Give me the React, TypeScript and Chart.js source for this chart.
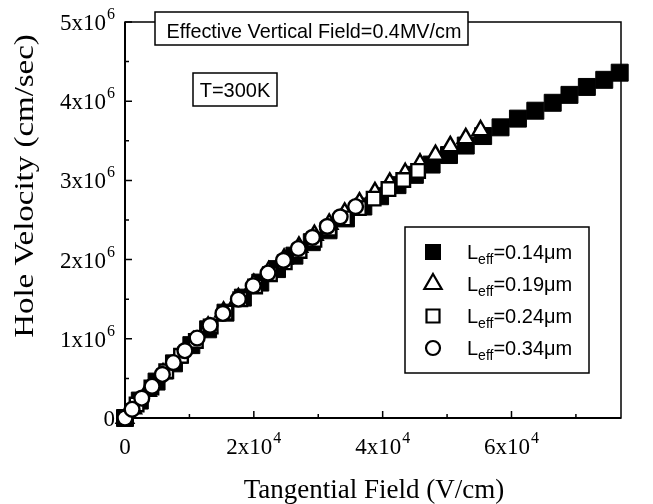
import { useEffect, useRef } from "react";
import { Chart, registerables } from "chart.js";

Chart.register(...registerables);

// Tangential field in kV/cm, hole velocity in 10^6 cm/sec, one pair per gate length
const field014 = [0, 2.3, 4.9, 7.6, 10.3, 12.9, 15.6, 18.3, 21.0, 23.6, 26.3, 29.0, 31.6, 34.3, 37.0, 39.6, 42.3, 45.0, 47.6, 50.3, 52.9, 55.6, 58.3, 61.0, 63.7, 66.4, 69.0, 71.7, 74.4, 76.8];
const vel014 = [0, 0.22, 0.46, 0.69, 0.92, 1.12, 1.33, 1.52, 1.71, 1.88, 2.05, 2.22, 2.37, 2.52, 2.67, 2.8, 2.94, 3.07, 3.2, 3.32, 3.44, 3.56, 3.67, 3.78, 3.88, 3.98, 4.08, 4.18, 4.27, 4.36];

const field019 = [0, 1.2, 3.5, 5.9, 8.2, 10.6, 12.9, 15.3, 17.6, 20.0, 22.3, 24.7, 27.0, 29.4, 31.7, 34.1, 36.4, 38.8, 41.1, 43.5, 45.8, 48.2, 50.5, 52.9, 55.2];
const vel019 = [0, 0.12, 0.34, 0.56, 0.76, 0.965, 1.15, 1.34, 1.51, 1.69, 1.85, 2.01, 2.16, 2.31, 2.45, 2.59, 2.72, 2.85, 2.97, 3.09, 3.21, 3.32, 3.43, 3.53, 3.63];

const field024 = [0, 1.8, 4.1, 6.4, 8.7, 11.0, 13.3, 15.6, 17.9, 20.2, 22.5, 24.8, 27.1, 29.4, 31.7, 34.0, 36.3, 38.6, 40.9, 43.2, 45.5];
const vel024 = [0, 0.17, 0.385, 0.59, 0.785, 0.973, 1.155, 1.33, 1.5, 1.66, 1.815, 1.965, 2.11, 2.25, 2.39, 2.52, 2.65, 2.77, 2.89, 3.005, 3.12];

const field034 = [0, 1.1, 2.6, 4.2, 5.8, 7.5, 9.3, 11.2, 13.2, 15.2, 17.6, 19.9, 22.2, 24.6, 26.9, 29.1, 31.4, 33.4, 35.8];
const vel034 = [0, 0.11, 0.25, 0.4, 0.55, 0.7, 0.85, 1.01, 1.17, 1.32, 1.5, 1.67, 1.83, 1.99, 2.14, 2.28, 2.42, 2.54, 2.67];

const legendLengths = ["0.14", "0.19", "0.24", "0.34"];

// Axis ticks
const xMajor = [0, 20000, 40000, 60000];
const xMinor = [10000, 30000, 50000, 70000];
const xTickBase = ["0", "2x10", "4x10", "6x10"];
const xTickExp = ["", "4", "4", "4"];
const yMajor = [0, 1e6, 2e6, 3e6, 4e6, 5e6];
const yMinor = [5e5, 1.5e6, 2.5e6, 3.5e6, 4.5e6];
const yTickBase = ["0", "1x10", "2x10", "3x10", "4x10", "5x10"];
const yTickExp = ["", "6", "6", "6", "6", "6"];

const SERIF = '"Liberation Serif", "Times New Roman", serif';
const SANS = '"Liberation Sans", Arial, sans-serif';

const toPoints = (f: number[], v: number[]) =>
  f.map((e, i) => ({ x: e * 1e3, y: v[i] * 1e6 }));

type MarkerKind = "filledSquare" | "triangle" | "openSquare" | "circle";

function drawMarker(ctx: CanvasRenderingContext2D, kind: MarkerKind, x: number, y: number) {
  ctx.save();
  ctx.lineWidth = 2.2;
  ctx.strokeStyle = "#000";
  ctx.fillStyle = "#fff";
  ctx.beginPath();
  if (kind === "filledSquare") {
    ctx.fillStyle = "#000";
    ctx.rect(x - 8, y - 8, 16, 16);
    ctx.fill();
  } else if (kind === "openSquare") {
    ctx.rect(x - 6.5, y - 6.5, 13, 13);
    ctx.fill();
    ctx.stroke();
  } else if (kind === "triangle") {
    const r = 10;
    ctx.moveTo(x, y - r);
    ctx.lineTo(x + r * 0.866, y + r / 2);
    ctx.lineTo(x - r * 0.866, y + r / 2);
    ctx.closePath();
    ctx.fill();
    ctx.stroke();
  } else {
    ctx.arc(x, y, 7, 0, Math.PI * 2);
    ctx.fill();
    ctx.stroke();
  }
  ctx.restore();
}

function drawSci(
  ctx: CanvasRenderingContext2D,
  base: string,
  exp: string,
  x: number,
  y: number,
  align: "center" | "right"
) {
  ctx.font = `23px ${SERIF}`;
  const wb = ctx.measureText(base).width;
  ctx.font = `16px ${SERIF}`;
  const we = exp ? ctx.measureText(exp).width + 1 : 0;
  const total = wb + we;
  const left = align === "center" ? x - total / 2 : x - total;
  ctx.textAlign = "left";
  ctx.textBaseline = "alphabetic";
  ctx.font = `23px ${SERIF}`;
  ctx.fillText(base, left, y);
  if (exp) {
    ctx.font = `16px ${SERIF}`;
    ctx.fillText(exp, left + wb + 1, y - 11);
  }
}

const framePlugin = {
  id: "frameAndTicks",
  beforeDatasetsDraw(chart: any) {
    const { ctx, chartArea: a, scales } = chart;
    const xs = scales.x;
    const ys = scales.y;
    ctx.save();
    ctx.strokeStyle = "#000";
    ctx.lineWidth = 1.5;
    ctx.strokeRect(a.left, a.top, a.right - a.left, a.bottom - a.top);
    ctx.lineWidth = 2;
    ctx.beginPath();
    ctx.moveTo(a.left, a.top);
    ctx.lineTo(a.left, a.bottom);
    ctx.lineTo(a.right, a.bottom);
    ctx.stroke();
    ctx.lineWidth = 1.5;
    ctx.beginPath();
    xMajor.forEach((v) => {
      const px = xs.getPixelForValue(v);
      ctx.moveTo(px, a.bottom);
      ctx.lineTo(px, a.bottom - 7);
    });
    xMinor.forEach((v) => {
      const px = xs.getPixelForValue(v);
      ctx.moveTo(px, a.bottom);
      ctx.lineTo(px, a.bottom - 4);
    });
    yMajor.forEach((v) => {
      const py = ys.getPixelForValue(v);
      ctx.moveTo(a.left, py);
      ctx.lineTo(a.left + 7, py);
    });
    yMinor.forEach((v) => {
      const py = ys.getPixelForValue(v);
      ctx.moveTo(a.left, py);
      ctx.lineTo(a.left + 4, py);
    });
    ctx.stroke();
    ctx.restore();
  },
  afterDraw(chart: any) {
    const { ctx, chartArea: a, scales } = chart;
    const xs = scales.x;
    const ys = scales.y;
    ctx.save();
    ctx.fillStyle = "#000";

    // tick labels
    xMajor.forEach((v, i) => {
      drawSci(ctx, xTickBase[i], xTickExp[i], xs.getPixelForValue(v), a.bottom + 36, "center");
    });
    yMajor.forEach((v, i) => {
      drawSci(ctx, yTickBase[i], yTickExp[i], a.left - 10, ys.getPixelForValue(v) + 8, "right");
    });

    // axis titles
    ctx.font = `27px ${SERIF}`;
    ctx.textAlign = "center";
    ctx.textBaseline = "alphabetic";
    ctx.fillText("Tangential Field (V/cm)", (a.left + a.right) / 2 + 1, 498);
    ctx.save();
    ctx.translate(33, 186);
    ctx.rotate(-Math.PI / 2);
    ctx.scale(1.22, 1);
    ctx.fillText("Hole Velocity (cm/sec)", 0, 0);
    ctx.restore();

    // condition boxes
    ctx.lineWidth = 1.5;
    ctx.strokeStyle = "#000";
    ctx.fillStyle = "#fff";
    ctx.fillRect(155, 12, 313, 33);
    ctx.strokeRect(155, 12, 313, 33);
    ctx.fillRect(193, 73, 84, 33);
    ctx.strokeRect(193, 73, 84, 33);
    ctx.fillStyle = "#000";
    ctx.font = `19.8px ${SANS}`;
    ctx.fillText("Effective Vertical Field=0.4MV/cm", 314, 38);
    ctx.font = `20px ${SANS}`;
    ctx.fillText("T=300K", 235, 97);

    // legend
    ctx.fillStyle = "#fff";
    ctx.fillRect(405, 227, 184, 146);
    ctx.strokeRect(405, 227, 184, 146);
    const kinds: MarkerKind[] = ["filledSquare", "triangle", "openSquare", "circle"];
    legendLengths.forEach((len, i) => {
      const rowY = 252 + i * 32;
      drawMarker(ctx, kinds[i], 433, rowY);
      ctx.fillStyle = "#000";
      ctx.textAlign = "left";
      ctx.font = `20px ${SANS}`;
      ctx.fillText("L", 467, rowY + 7);
      const wl = ctx.measureText("L").width;
      ctx.font = `14px ${SANS}`;
      ctx.fillText("eff", 467 + wl, rowY + 12);
      const we = ctx.measureText("eff").width;
      ctx.font = `20px ${SANS}`;
      ctx.fillText(`=${len}\u03bcm`, 467 + wl + we, rowY + 7);
    });
    ctx.restore();
  },
};

export default function App() {
  const canvasRef = useRef<HTMLCanvasElement | null>(null);

  useEffect(() => {
    if (!canvasRef.current) return;
    const chart = new Chart(canvasRef.current, {
      type: "scatter",
      data: {
        datasets: [
          {
            label: "Leff=0.34\u03bcm",
            data: toPoints(field034, vel034),
            pointStyle: "circle",
            pointRadius: 7.4,
            backgroundColor: "#fff",
            borderColor: "#000",
            borderWidth: 2.4,
            order: 0,
            clip: false,
          },
          {
            label: "Leff=0.24\u03bcm",
            data: toPoints(field024, vel024),
            pointStyle: "rect",
            pointRadius: 9.6,
            backgroundColor: "#fff",
            borderColor: "#000",
            borderWidth: 2.4,
            order: 1,
            clip: false,
          },
          {
            label: "Leff=0.19\u03bcm",
            data: toPoints(field019, vel019),
            pointStyle: "triangle",
            pointRadius: 9.5,
            backgroundColor: "#fff",
            borderColor: "#000",
            borderWidth: 2.4,
            order: 2,
            clip: false,
          },
          {
            label: "Leff=0.14\u03bcm",
            data: toPoints(field014, vel014),
            pointStyle: "rect",
            pointRadius: 12,
            backgroundColor: "#000",
            borderColor: "#000",
            borderWidth: 1,
            order: 3,
            clip: false,
          },
        ],
      },
      options: {
        responsive: false,
        animation: false,
        events: [],
        layout: { padding: { left: 125, right: 32, top: 22, bottom: 86 } },
        plugins: {
          legend: { display: false },
          tooltip: { enabled: false },
        },
        scales: {
          x: { type: "linear", min: 0, max: 77000, display: false },
          y: { type: "linear", min: 0, max: 5e6, display: false },
        },
      },
      plugins: [framePlugin],
    });
    return () => chart.destroy();
  }, []);

  return (
    <div style={{ position: "absolute", left: 0, top: 0, width: 653, height: 504, background: "#fff" }}>
      <canvas ref={canvasRef} width={653} height={504} style={{ display: "block" }} />
    </div>
  );
}
